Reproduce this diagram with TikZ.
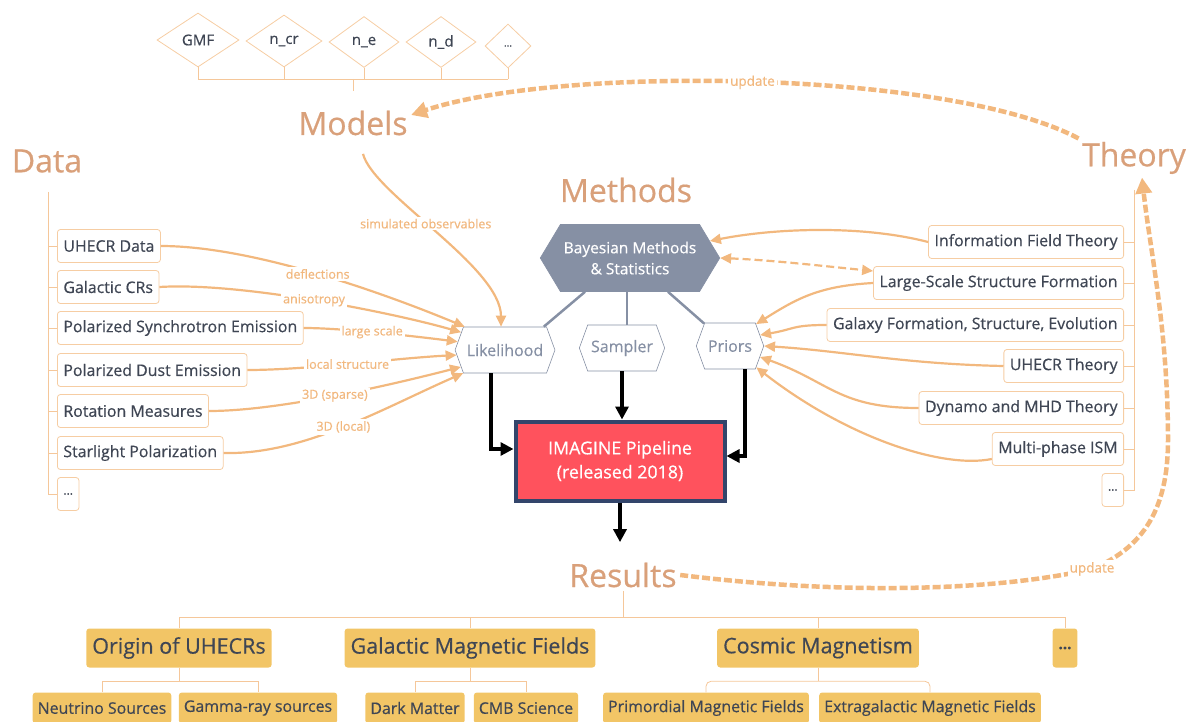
\documentclass[tikz,border=0pt]{standalone}
\usepackage{fontspec}
\setmainfont{Open Sans}[FakeBold=0.5]
\usetikzlibrary{shapes.geometric,shapes.symbols,arrows.meta}
\definecolor{flow}{HTML}{F2B87E}
\definecolor{titlec}{HTML}{D9A07A}
\definecolor{boxline}{HTML}{F6CDA3}
\definecolor{treeline}{HTML}{F5C79A}
\definecolor{ink}{HTML}{3F4654}
\definecolor{hexgray}{HTML}{8690A4}
\definecolor{imred}{HTML}{FF525D}
\definecolor{imnavy}{HTML}{33456B}
\definecolor{resfill}{HTML}{F2C566}
\tikzset{
  title/.style={text=titlec, font=\fontsize{32}{36}\selectfont},
  item/.style={draw=boxline, line width=0.8pt, rounded corners=3pt, fill=white, text=ink,
    font=\fontsize{15.9}{18}\selectfont, inner xsep=6pt, minimum height=33pt},
  param/.style={diamond, draw=boxline, line width=0.8pt, text=ink, inner sep=0pt,
    font=\fontsize{15}{17}\selectfont},
  hexa/.style={signal, signal to=east and west, signal pointer angle=140, draw=hexgray,
    line width=0.6pt, text=hexgray, font=\fontsize{16}{18}\selectfont, minimum height=46pt},
  result/.style={fill=resfill, rounded corners=3pt, text=ink, font=\fontsize{21.5}{24}\selectfont,
    minimum height=39pt, inner xsep=6pt},
  sub/.style={result, font=\fontsize{15.9}{18}\selectfont, minimum height=31pt, inner xsep=5pt},
  tree/.style={draw=treeline, line width=0.8pt},
  feed/.style={draw=flow, line width=2.2pt, -{Triangle[length=11pt,width=10pt]}},
  lab/.style={fill=white, text=flow, font=\fontsize{12.5}{14}\selectfont, inner sep=2pt},
  pipe/.style={line width=3.2pt, -{Triangle[length=13pt,width=13pt]}},
  upd/.style={draw=flow, line width=4.5pt, dash pattern=on 8pt off 3pt,
    -{Triangle[length=16pt,width=16pt]}},
  link/.style={draw=hexgray, line width=2.5pt}
}
\begin{document}
\begin{tikzpicture}[x=1pt, y=-1pt]
\useasboundingbox (0,0) rectangle (1194,722);

% headings
\node[title] (models) at (353,123) {Models};
\node[title] (data) at (47,161) {Data};
\node[title] (theory) at (1134,158) {Theory};
\node[title] (methods) at (626,190) {Methods};
\node[title] (results) at (623,575) {Results};

% model parameters
\node[param, minimum width=82pt, minimum height=54pt] (gmf) at (198,40) {GMF};
\node[param, minimum width=76pt, minimum height=52pt] (ncr) at (284,41) {n\_cr};
\node[param, minimum width=70pt, minimum height=51pt] (ne) at (364,42) {n\_e};
\node[param, minimum width=70pt, minimum height=51pt] (nd) at (441,42) {n\_d};
\node[param, minimum width=46pt, minimum height=44pt, font=\fontsize{10}{12}\selectfont] (pmore) at (508,46) {...};
\coordinate (mbar) at (353,79);
\foreach \n in {gmf,ncr,ne,nd,pmore}
  \draw[tree] (\n.south) -- (\n.south |- mbar);
\draw[tree] (gmf.south |- mbar) -- (pmore.south |- mbar);
\draw[tree] (mbar) -- ++(0,12);

% data
\node[item, anchor=west] (uhecr) at (57,246) {UHECR Data};
\node[item, anchor=west] (gcr) at (57,287) {Galactic CRs};
\node[item, anchor=west] (sync) at (57,328) {Polarized Synchrotron Emission};
\node[item, anchor=west] (dust) at (57,370) {Polarized Dust Emission};
\node[item, anchor=west] (rm) at (57,411) {Rotation Measures};
\node[item, anchor=west] (star) at (57,453) {Starlight Polarization};
\node[item, anchor=west, font=\fontsize{12}{14}\selectfont] (dmore) at (57,494) {...};
\coordinate (dtop) at (48,192);
\draw[tree] (dtop) |- (dmore.west);
\foreach \n in {uhecr,gcr,sync,dust,rm,star}
  \draw[tree] (\n.west) -- ++(-9,0);

% theory
\node[item, anchor=east] (ift) at (1124,242) {Information Field Theory};
\node[item, anchor=east] (lss) at (1124,283) {Large-Scale Structure Formation};
\node[item, anchor=east] (gal) at (1124,325) {Galaxy Formation, Structure, Evolution};
\node[item, anchor=east] (uth) at (1124,366) {UHECR Theory};
\node[item, anchor=east] (dyn) at (1124,408) {Dynamo and MHD Theory};
\node[item, anchor=east] (ism) at (1124,449) {Multi-phase ISM};
\node[item, anchor=east, font=\fontsize{12}{14}\selectfont] (tmore) at (1124,490) {...};
\coordinate (ttop) at (1134,190);
\draw[tree] (ttop) |- (tmore.east);
\foreach \n in {ift,lss,gal,uth,dyn,ism}
  \draw[tree] (\n.east) -- ++(10,0);

% methods
\node[hexa, fill=hexgray, text=white, signal pointer angle=118, minimum width=174pt,
  minimum height=67pt, align=center, font=\fontsize{15.5}{21}\selectfont] (bay) at (630,258)
  {Bayesian Methods\\\& Statistics};
\node[hexa, minimum width=98pt] (lik) at (505,350) {Likelihood};
\node[hexa, minimum width=81pt] (sam) at (622,348) {Sampler};
\node[hexa, minimum width=65pt] (pri) at (730,346) {Priors};
\draw[link] ([xshift=-45pt]bay.south) -- (lik.31);
\draw[link] ([xshift=-3pt]bay.south) -- ([xshift=-3pt]bay.south |- sam.north);
\draw[link] ([xshift=38pt]bay.south) -- (pri.139);

\node[draw=imnavy, line width=4pt, fill=imred, text=white, minimum width=209pt,
  minimum height=79pt, align=center, font=\fontsize{17.8}{24}\selectfont] (imagine) at (620,461)
  {IMAGINE Pipeline\\(released 2018)};

% data into likelihood
\draw[feed] (uhecr.east) .. controls +(100,0) and +(-60,-25) .. node[lab, pos=.47] {deflections} (lik.150);
\draw[feed] (gcr.east) .. controls +(80,-5) and +(-70,-20) .. node[lab, pos=.5] {anisotropy} (lik.158);
\draw[feed] (sync.east) .. controls +(40,0) and +(-40,-5) .. node[lab, pos=.45] {large scale} (lik.170);
\draw[feed] (dust.east) .. controls +(60,0) and +(-60,3) .. node[lab, pos=.48] {local structure} (lik.186);
\draw[feed] (rm.east) .. controls +(70,0) and +(-70,18) .. node[lab, pos=.5] {3D (sparse)} (lik.201);
\draw[feed] (star.east) .. controls +(80,2) and +(-80,35) .. node[lab, pos=.5] {3D (local)} (lik.209);
\draw[feed] ([xshift=10pt,yshift=-15pt]models.south) .. controls +(10,40) and +(0,-60) ..
  node[lab, pos=.45] {simulated observables} ([xshift=-4pt]lik.north);

% theory into methods
\draw[feed] (ift.west) .. controls +(-70,-18) and +(60,-12) .. (bay.12);
\draw[draw=flow, line width=2.2pt, dash pattern=on 8pt off 4pt,
  {Triangle[length=11pt,width=10pt]}-{Triangle[length=11pt,width=10pt]}]
  (bay.east) .. controls +(50,2) and +(-50,-5) .. ([yshift=12pt]lss.west);
\draw[feed] (lss.west) .. controls +(-55,3) and +(40,-25) .. (pri.40);
\draw[feed] (gal.west) .. controls +(-35,0) and +(35,-6) .. (pri.20);
\draw[feed] (uth.west) .. controls +(-100,-2) and +(80,5) .. (pri.0);
\draw[feed] (dyn.west) .. controls +(-80,0) and +(70,25) .. (pri.-20);
\draw[feed] ([yshift=-10pt]ism.west) .. controls +(-50,10) and +(90,70) .. (pri.-39);

% pipeline
\draw[pipe] ([xshift=-14pt]lik.south) |- ([yshift=12pt]imagine.west);
\draw[pipe] (sam.south) -- (sam.south |- imagine.north);
\draw[pipe] ([xshift=15pt]pri.south) |- ([yshift=5pt]imagine.east);
\draw[pipe] (imagine.south) -- ([yshift=17pt]imagine.south |- results.north);

% update loops
\draw[upd] (theory.north west) .. controls (950,70) and (560,65) ..
  node[lab, pos=.5, font=\fontsize{13.5}{15}\selectfont] {update} ([yshift=8pt]models.east);
\draw[upd] (results.east) .. controls (850,596) and (1000,590) .. (1092,569)
  node[lab, font=\fontsize{13.5}{15}\selectfont] {update}
  .. controls (1150,545) and (1168,500) .. (1168,440)
  .. controls (1168,330) and (1150,250) .. ([xshift=8pt]theory.south);

% results
\node[result] (r1) at (179,648) {Origin of UHECRs};
\node[result] (r2) at (470,648) {Galactic Magnetic Fields};
\node[result] (r3) at (818,648) {Cosmic Magnetism};
\node[result, font=\fontsize{15}{18}\selectfont\bfseries] (r4) at (1065,648) {...};
\node[sub] (s1) at (102,708) {Neutrino Sources};
\node[sub] (s2) at (258,708) {Gamma-ray sources};
\node[sub] (s3) at (415,708) {Dark Matter};
\node[sub] (s4) at (526,708) {CMB Science};
\node[sub] (s5) at (706,708) {Primordial Magnetic Fields};
\node[sub] (s6) at (930,708) {Extragalactic Magnetic Fields};
\coordinate (rbar) at (623,617);
\draw[tree] (results.south) -- (rbar);
\draw[tree] (r1.north |- rbar) -- (r4.north |- rbar);
\foreach \n in {r1,r2,r3,r4}
  \draw[tree] (\n.north) -- (\n.north |- rbar);
\foreach \n in {r1,r2,r3}
  \draw[tree] (\n.south) -- ++(0,13);
\draw[tree] (s1.north) -- ++(0,-11) -| (s2.north);
\draw[tree] (s3.north) -- ++(0,-11) -| (s4.north);
\draw[tree, rounded corners=5pt] (s5.north) -- ++(0,-11) -| (s6.north);
\end{tikzpicture}
\end{document}
